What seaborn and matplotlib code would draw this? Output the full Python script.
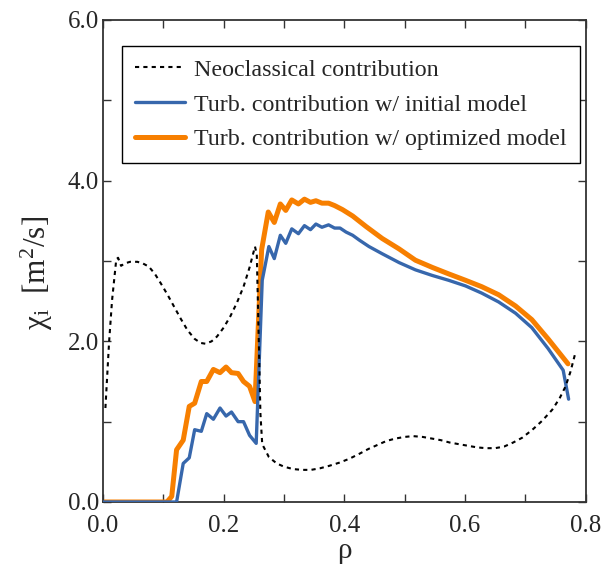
import matplotlib
matplotlib.use("Agg")
import matplotlib.pyplot as plt
from matplotlib.ticker import MultipleLocator, FormatStrFormatter
import seaborn as sns
import pandas as pd

# neoclassical contribution (dotted black)
rho_nc = [0.004, 0.010, 0.015, 0.022, 0.025, 0.030, 0.036, 0.045, 0.057, 0.066,
          0.076, 0.086, 0.096, 0.107, 0.118, 0.129, 0.140, 0.152, 0.162, 0.170,
          0.180, 0.189, 0.200, 0.211, 0.222, 0.233, 0.243, 0.252, 0.255, 0.258,
          0.261, 0.264, 0.275, 0.288, 0.300, 0.315, 0.330, 0.345, 0.360, 0.375,
          0.392, 0.409, 0.425, 0.440, 0.455, 0.470, 0.485, 0.500, 0.514, 0.530,
          0.545, 0.560, 0.575, 0.590, 0.605, 0.620, 0.635, 0.650, 0.665, 0.680,
          0.695, 0.712, 0.728, 0.745, 0.757, 0.767, 0.775, 0.783]
chi_nc = [1.17, 1.98, 2.51, 3.02, 3.04, 2.94, 2.97, 2.99, 2.99, 2.97,
          2.93, 2.84, 2.72, 2.58, 2.43, 2.28, 2.14, 2.03, 1.98, 1.97,
          2.00, 2.06, 2.17, 2.31, 2.48, 2.68, 2.92, 3.18, 3.08, 2.10,
          1.10, 0.72, 0.56, 0.48, 0.44, 0.41, 0.40, 0.40, 0.42, 0.45,
          0.49, 0.54, 0.60, 0.66, 0.71, 0.76, 0.79, 0.81, 0.82, 0.81,
          0.79, 0.77, 0.74, 0.72, 0.70, 0.68, 0.67, 0.67, 0.69, 0.74,
          0.80, 0.90, 1.01, 1.15, 1.29, 1.44, 1.62, 1.85]

# turbulent contribution, initial model (blue)
rho_init = [0.0, 0.122, 0.133, 0.143, 0.152, 0.163, 0.172, 0.183, 0.194, 0.204,
            0.213, 0.224, 0.233, 0.243, 0.254, 0.264, 0.275, 0.284, 0.294, 0.303,
            0.313, 0.324, 0.334, 0.344, 0.353, 0.363, 0.374, 0.384, 0.393, 0.403,
            0.414, 0.425, 0.441, 0.463, 0.491, 0.518, 0.546, 0.573, 0.601, 0.628,
            0.656, 0.684, 0.711, 0.738, 0.763, 0.772]
chi_init = [0.0, 0.0, 0.48, 0.55, 0.90, 0.88, 1.10, 1.03, 1.17, 1.07,
            1.12, 1.00, 1.00, 0.83, 0.73, 2.76, 3.18, 3.03, 3.32, 3.22,
            3.40, 3.34, 3.44, 3.39, 3.46, 3.42, 3.45, 3.41, 3.41, 3.36,
            3.32, 3.26, 3.18, 3.09, 2.98, 2.89, 2.82, 2.76, 2.69, 2.60,
            2.49, 2.35, 2.17, 1.91, 1.64, 1.28]

# turbulent contribution, optimized model (orange)
rho_opt = [0.0, 0.106, 0.114, 0.122, 0.133, 0.143, 0.152, 0.163, 0.172, 0.183,
           0.194, 0.204, 0.213, 0.224, 0.233, 0.243, 0.252, 0.263, 0.274, 0.284,
           0.294, 0.303, 0.313, 0.324, 0.334, 0.344, 0.353, 0.363, 0.374, 0.384,
           0.397, 0.414, 0.436, 0.463, 0.491, 0.518, 0.546, 0.573, 0.601, 0.628,
           0.656, 0.684, 0.711, 0.738, 0.771]
chi_opt = [0.0, 0.0, 0.07, 0.65, 0.77, 1.19, 1.23, 1.50, 1.50, 1.65,
           1.61, 1.68, 1.61, 1.60, 1.50, 1.44, 1.25, 3.14, 3.61, 3.48,
           3.71, 3.63, 3.76, 3.71, 3.77, 3.73, 3.75, 3.72, 3.72, 3.69,
           3.64, 3.56, 3.43, 3.28, 3.15, 3.01, 2.92, 2.84, 2.76, 2.68,
           2.58, 2.44, 2.27, 2.03, 1.72]

labels = ["Neoclassical contribution",
          "Turb. contribution w/ initial model",
          "Turb. contribution w/ optimized model"]

sns.set_style("ticks")
plt.rcParams['font.family'] = ['Liberation Serif', 'DejaVu Serif']
plt.rcParams['mathtext.fontset'] = 'custom'
plt.rcParams['mathtext.rm'] = 'Liberation Serif'
plt.rcParams['mathtext.it'] = 'Liberation Serif:italic'

nc = pd.DataFrame({'rho': rho_nc, 'chi': chi_nc})
init = pd.DataFrame({'rho': rho_init, 'chi': chi_init})
opt = pd.DataFrame({'rho': rho_opt, 'chi': chi_opt})

fig = plt.figure(figsize=(6.15, 5.67), dpi=100)
ax = fig.add_axes([103/615, 1 - 502/567, 482.5/615, 482/567])

sns.lineplot(data=opt, x='rho', y='chi', ax=ax, color='#f77f00', lw=3.6,
             estimator=None, sort=False, zorder=2, label=labels[2])
sns.lineplot(data=init, x='rho', y='chi', ax=ax, color='#3767ac', lw=2.4,
             estimator=None, sort=False, zorder=3, label=labels[1])
sns.lineplot(data=nc, x='rho', y='chi', ax=ax, color='black', lw=1.5,
             estimator=None, sort=False, zorder=4, label=labels[0])
ax.lines[2].set_dashes((2, 2))

ax.set_xlim(0, 0.8)
ax.set_ylim(0, 6)
ax.xaxis.set_major_locator(MultipleLocator(0.2))
ax.xaxis.set_minor_locator(MultipleLocator(0.1))
ax.yaxis.set_major_locator(MultipleLocator(2))
ax.yaxis.set_minor_locator(MultipleLocator(1))
ax.xaxis.set_major_formatter(FormatStrFormatter('%.1f'))
ax.yaxis.set_major_formatter(FormatStrFormatter('%.1f'))
ax.tick_params(which='both', direction='in', top=True, right=True,
               length=6, width=1.0, color='#333333')
ax.tick_params(axis='x', which='major', labelsize=18, pad=9)
ax.tick_params(axis='y', which='major', labelsize=18, pad=3)
for sp in ax.spines.values():
    sp.set_linewidth(1.3)
    sp.set_color('#333333')

ax.set_xlabel('ρ', fontsize=21, labelpad=1)
ax.set_ylabel('χ$_{\\rm i}$  [m$^{\\rm 2}$/s]', fontsize=22.5)
ax.yaxis.set_label_coords(-0.10, 0.475)

h, l = ax.get_legend_handles_labels()
order = [2, 1, 0]
leg = ax.legend([h[i] for i in order], [l[i] for i in order],
                loc='upper left', bbox_to_anchor=(0.039, 0.946),
                borderaxespad=0, fontsize=17.3, fancybox=False,
                edgecolor='black', framealpha=1, handlelength=2.1,
                handletextpad=0.37, labelspacing=0.54, borderpad=0.54)
leg.get_frame().set_linewidth(1.0)

fig.savefig('out.png', dpi=100)
